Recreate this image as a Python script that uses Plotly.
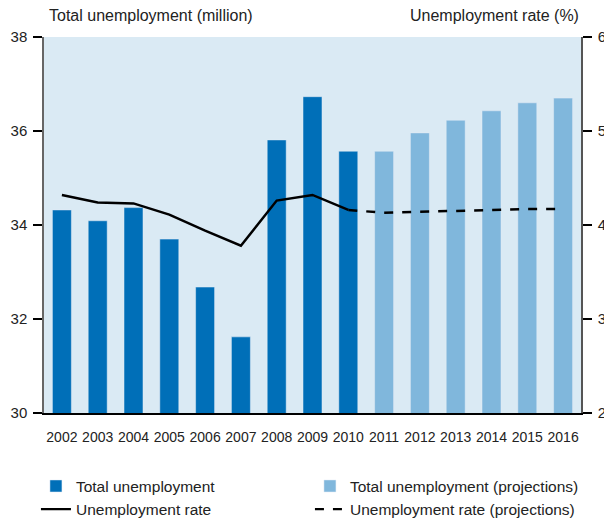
import plotly.graph_objects as go

# Dados
anos = ['2002', '2003', '2004', '2005', '2006', '2007', '2008', '2009', '2010',
        '2011', '2012', '2013', '2014', '2015', '2016']
anos_reais = anos[:9]
anos_proj = anos[9:]
desemprego_total = [34.32, 34.09, 34.37, 33.70, 32.68, 31.62, 35.81, 36.73, 35.57]
desemprego_proj = [35.57, 35.96, 36.23, 36.43, 36.60, 36.70]
taxa_real = [4.32, 4.24, 4.23, 4.11, 3.94, 3.78, 4.26, 4.32, 4.16]
taxa_proj = [4.16, 4.13, 4.14, 4.15, 4.16, 4.17, 4.17]  # começa em 2010
anos_taxa_proj = anos[8:]

azul_escuro = '#006FB8'
azul_claro = '#80B7DC'
fundo = '#DAEAF4'
fonte_texto = 'Liberation Sans'
fonte_eixos = 'Liberation Sans'

fig = go.Figure()

fig.add_trace(go.Bar(x=anos_reais, y=desemprego_total, name='Total unemployment',
                     marker_color=azul_escuro, width=0.53))
fig.add_trace(go.Bar(x=anos_proj, y=desemprego_proj, name='Total unemployment (projections)',
                     marker_color=azul_claro, width=0.53))
fig.add_trace(go.Scatter(x=anos_reais, y=taxa_real, name='Unemployment rate', yaxis='y2',
                         mode='lines', line=dict(color='black', width=2.5)))
fig.add_trace(go.Scatter(x=anos_taxa_proj, y=taxa_proj, name='Unemployment rate (projections)',
                         yaxis='y2', mode='lines',
                         line=dict(color='black', width=2.5, dash='dash')))

# a página tem margem de 8px no body, por isso a figura é 8px menor
fig.update_layout(
    width=604, height=516,
    margin=dict(l=36, r=31, t=29, b=111, autoexpand=False),
    barmode='overlay',
    plot_bgcolor=fundo,
    paper_bgcolor='white',
    font=dict(family=fonte_texto, size=16, color='#222'),
    xaxis=dict(type='category', categoryorder='array', categoryarray=anos,
               range=[-0.5, 14.5], showgrid=False, ticks='', showline=True,
               linecolor='black', linewidth=2, tickangle=0, automargin=False,
               tickfont=dict(family=fonte_eixos, size=14, color='#222'),
               ticklabelstandoff=10),
    yaxis=dict(range=[30, 38], dtick=2, showgrid=False, zeroline=False,
               ticks='outside', ticklen=9, tickwidth=2, tickcolor='black',
               showline=True, linecolor='#666', linewidth=1.5, automargin=False,
               tickfont=dict(family=fonte_eixos, size=15, color='#222'),
               ticklabelstandoff=3),
    yaxis2=dict(range=[2, 6], dtick=1, overlaying='y', side='right',
                showgrid=False, zeroline=False, automargin=False,
                ticks='outside', ticklen=9, tickwidth=2, tickcolor='black',
                showline=True, linecolor='#555', linewidth=1.5,
                tickfont=dict(family=fonte_eixos, size=15, color='#222'),
                ticklabelstandoff=3),
    legend=dict(orientation='h', x=-0.015, xanchor='left', y=-0.15, yanchor='top',
                entrywidth=229, entrywidthmode='pixels', traceorder='normal',
                font=dict(family=fonte_texto, size=15.5, color='#222'),
                bgcolor='rgba(0,0,0,0)'),
    annotations=[
        dict(text='Total unemployment (million)', xref='paper', yref='paper',
             x=0.0056, y=1.0585, xanchor='left', yanchor='middle', showarrow=False),
        dict(text='Unemployment rate (%)', xref='paper', yref='paper',
             x=1.0, y=1.0585, xanchor='right', yanchor='middle', showarrow=False),
    ],
)

fig.write_html('out.html')
